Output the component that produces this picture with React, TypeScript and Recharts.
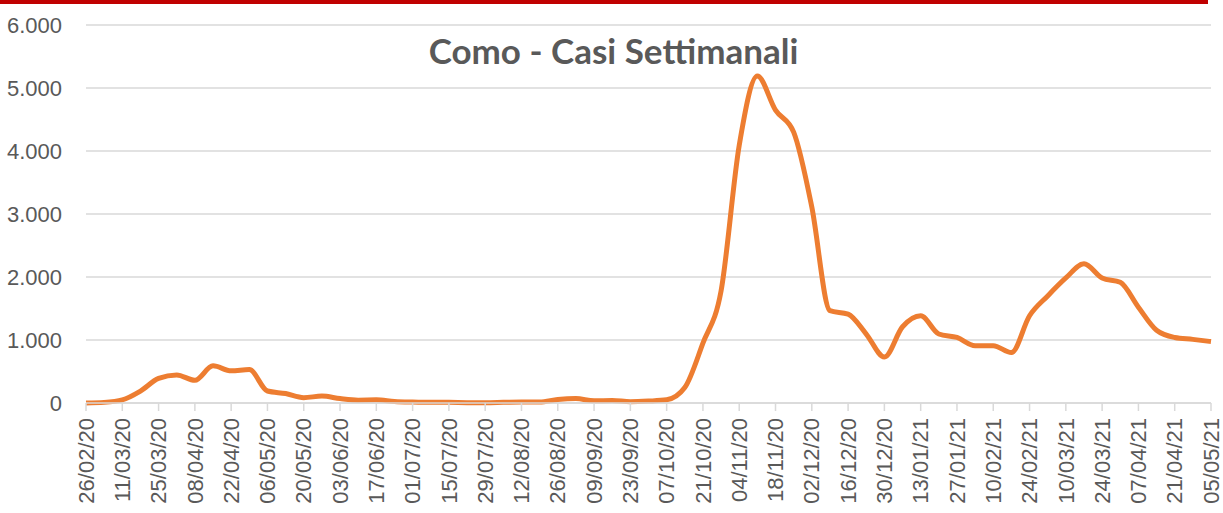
import { LineChart, Line, XAxis, YAxis, CartesianGrid } from 'recharts';

const weeks = [
  '26/02/20', '04/03/20', '11/03/20', '18/03/20', '25/03/20', '01/04/20', '08/04/20', '15/04/20',
  '22/04/20', '29/04/20', '06/05/20', '13/05/20', '20/05/20', '27/05/20', '03/06/20', '10/06/20',
  '17/06/20', '24/06/20', '01/07/20', '08/07/20', '15/07/20', '22/07/20', '29/07/20', '05/08/20',
  '12/08/20', '19/08/20', '26/08/20', '02/09/20', '09/09/20', '16/09/20', '23/09/20', '30/09/20',
  '07/10/20', '14/10/20', '21/10/20', '28/10/20', '04/11/20', '11/11/20', '18/11/20', '25/11/20',
  '02/12/20', '09/12/20', '16/12/20', '23/12/20', '30/12/20', '06/01/21', '13/01/21', '20/01/21',
  '27/01/21', '03/02/21', '10/02/21', '17/02/21', '24/02/21', '03/03/21', '10/03/21', '17/03/21',
  '24/03/21', '31/03/21', '07/04/21', '14/04/21', '21/04/21', '28/04/21', '05/05/21',
];

const casi = [
  0, 10, 50, 190, 390, 445, 360, 590, 510, 530,
  190, 150, 85, 110, 70, 45, 50, 25, 15, 10,
  10, 5, 5, 10, 15, 15, 55, 70, 35, 40,
  20, 30, 50, 245, 950, 1780, 4090, 5190, 4650, 4300,
  3110, 1465, 1410, 1095, 730, 1210, 1385, 1095, 1040, 910,
  910, 800, 1385, 1700, 1985, 2210, 1985, 1915, 1520, 1155,
  1040, 1010, 975,
];

const yTicks = [0, 1000, 2000, 3000, 4000, 5000, 6000];

const data = weeks.map((w, i) => ({ week: w, casi: casi[i] }));

// formato italiano: 1.000
const fmtThousands = (v: number) =>
  v >= 1000 ? `${Math.floor(v / 1000)}.${String(v % 1000).padStart(3, '0')}` : String(v);

const WeekTick = (props: any) => {
  const { x, y, payload } = props;
  return (
    <text
      x={x}
      y={y}
      dy="0.35em"
      transform={`rotate(-90, ${x}, ${y})`}
      textAnchor="end"
      fill="#595959"
      fontSize={22}
      fontFamily="'Liberation Sans', Arial, sans-serif"
    >
      {payload.value}
    </text>
  );
};

export default function App() {
  return (
    <div style={{ position: 'absolute', left: 0, top: 0, width: 1223, height: 513, background: '#fff' }}>
      <div style={{ position: 'absolute', left: 0, top: 0, width: 1208, height: 4, background: '#C00000' }} />
      <div
        style={{
          position: 'absolute',
          left: 0,
          top: 29,
          width: 1223,
          textAlign: 'center',
          fontFamily: 'Lato, sans-serif',
          fontWeight: 700,
          fontSize: 35,
          color: '#595959',
          paddingLeft: 2,
        }}
      >
        Como - Casi Settimanali
      </div>
      <LineChart width={1223} height={513} data={data} margin={{ top: 25, right: 12, bottom: 0, left: 0 }}>
        <CartesianGrid vertical={false} stroke="#d9d9d9" strokeWidth={1.5} />
        <XAxis
          dataKey="week"
          interval={1}
          height={110}
          stroke="#d9d9d9"
          strokeWidth={1.5}
          tickSize={8}
          tickMargin={7}
          tick={<WeekTick />}
        />
        <YAxis
          domain={[0, 6000]}
          ticks={yTicks}
          width={86}
          axisLine={false}
          tickLine={false}
          tickSize={0}
          tickMargin={24}
          tickFormatter={fmtThousands}
          tick={{ fill: '#595959', fontSize: 22, fontFamily: "'Liberation Sans', Arial, sans-serif" }}
        />
        <Line
          type="monotone"
          dataKey="casi"
          stroke="#ED7D31"
          strokeWidth={5}
          dot={false}
          isAnimationActive={false}
        />
      </LineChart>
    </div>
  );
}
